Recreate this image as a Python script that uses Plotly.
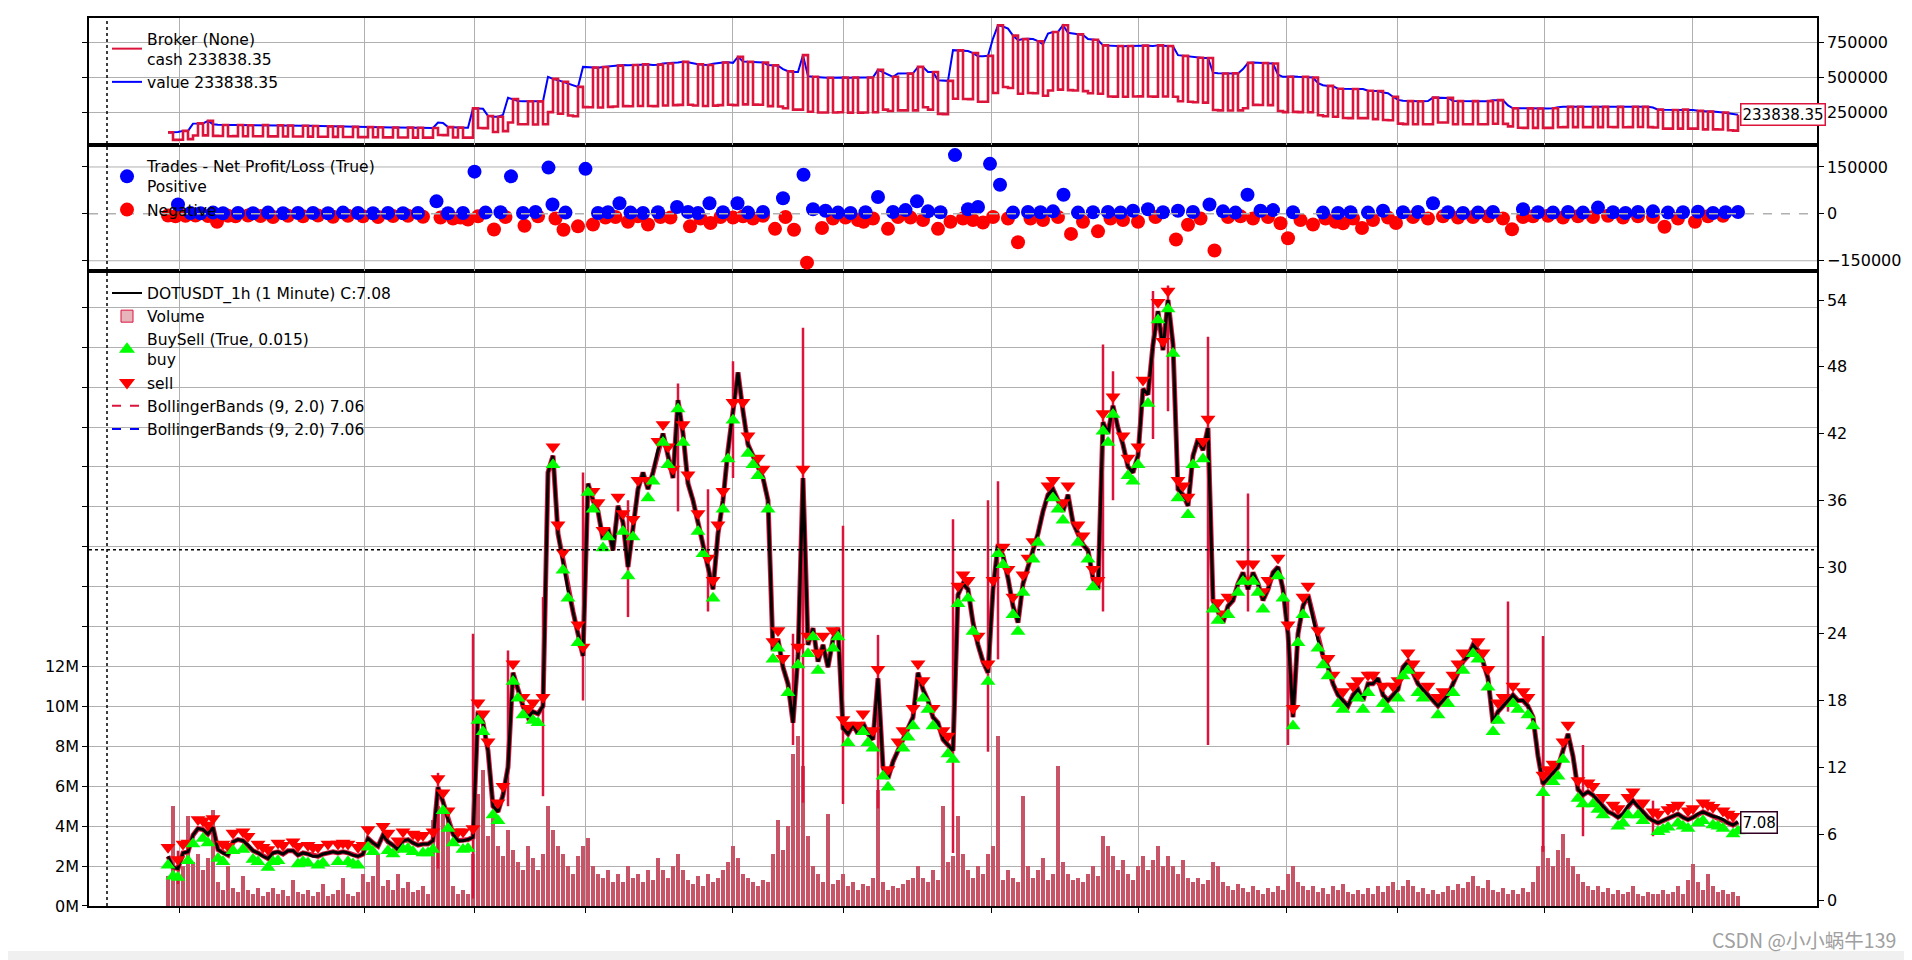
import plotly.graph_objects as go

# ---------------- data ----------------
# closing price, one value per plotted bar
close = [
    4.0, 3.0, 2.9, 4.3, 4.4, 5.9, 6.5, 6.4, 6.0, 6.6,
    4.6, 4.3, 4.1, 5.3, 5.5, 5.4, 5.0, 4.5, 4.3, 4.0,
    3.8, 4.3, 4.4, 4.2, 4.5, 4.5, 4.1, 4.3, 4.2, 4.0,
    4.0, 4.2, 4.3, 4.4, 4.3, 4.4, 4.3, 4.1, 4.0, 4.2,
    5.6, 5.2, 4.9, 5.9, 5.3, 5.0, 4.6, 5.4, 5.5, 5.2,
    5.0, 5.1, 5.1, 5.4, 10.2, 8.9, 7.3, 6.0, 5.4, 5.4,
    5.5, 5.7, 17.0, 16.0, 13.5, 8.5, 8.0, 9.5, 12.0, 20.5,
    19.0, 17.5, 16.5, 17.0, 16.8, 17.5, 38.5, 40.0, 33.0, 30.5,
    28.0, 26.0, 24.0, 22.0, 37.5, 36.0, 35.0, 32.5, 33.5, 31.5,
    35.5, 34.0, 30.0, 33.5, 37.0, 38.5, 37.0, 38.5, 40.5, 42.0,
    40.0, 38.0, 45.0, 42.0, 37.5, 36.0, 34.0, 32.0, 30.0, 28.0,
    33.0, 36.0, 40.5, 44.0, 47.5, 44.0, 41.0, 40.0, 39.0, 38.0,
    36.0, 22.5, 23.5, 21.0, 19.5, 16.0, 22.0, 38.0, 23.0, 24.5,
    21.5, 23.0, 21.0, 23.5, 24.5, 15.5, 15.0, 15.8, 15.0, 16.0,
    15.0, 14.5, 20.0, 12.0, 11.0, 12.5, 13.5, 14.5, 15.5, 16.5,
    20.5, 19.0, 18.0, 16.5, 16.0, 14.5, 14.0, 13.5, 27.5, 28.5,
    28.0, 25.0, 23.0, 21.5, 20.5, 28.0, 32.0, 31.0, 29.0, 26.5,
    25.0, 28.5, 30.0, 31.5, 33.0, 35.0, 36.5, 37.0, 36.0, 35.0,
    36.5, 34.0, 33.0, 32.0, 31.5, 29.0, 28.0, 43.0, 42.0, 44.5,
    42.5, 41.0, 39.0, 38.5, 40.0, 46.0, 45.5, 50.0, 53.0, 49.5,
    54.0, 50.0, 37.0, 36.5, 35.5, 40.0, 41.5, 40.5, 42.5, 27.0,
    26.0, 25.0, 26.5, 27.0, 28.5, 29.5, 28.0, 29.5, 28.5, 27.0,
    28.0, 29.5, 30.0, 28.0, 24.0, 16.5, 24.0, 26.5, 27.5, 25.5,
    23.5, 22.0, 21.0, 19.5, 18.5, 18.0, 17.5, 18.5, 19.0, 18.0,
    19.5, 19.5, 20.0, 18.5, 18.0, 18.5, 19.0, 21.0, 21.5, 20.5,
    19.5, 19.0, 18.5, 18.0, 17.5, 18.0, 18.5, 19.5, 20.5, 21.5,
    22.0, 23.0, 22.5, 21.5, 20.0, 16.0, 17.0, 17.5, 18.0, 18.5,
    18.0, 18.0, 17.5, 16.5, 13.0, 10.5, 11.0, 11.5, 12.0, 13.5,
    15.0, 13.0, 10.0, 9.5, 9.8, 9.5, 9.0, 8.5, 8.0, 7.8,
    7.5, 7.8, 8.5, 9.0, 8.5, 8.0, 7.5, 7.2, 7.0, 7.2,
    7.4, 7.6, 7.8, 7.5, 7.3, 7.5, 7.8, 8.0, 7.8, 7.6,
    7.5, 7.3, 7.0, 6.8, 7.08,
]

# volume in millions, one value per bar
volume_m = [
    1.5, 5.0, 1.3, 2.0, 4.5, 2.2, 2.6, 1.8, 2.4, 4.8,
    1.2, 0.8, 2.0, 0.9, 0.7, 1.5, 0.8, 0.6, 0.9, 0.5,
    0.7, 0.9, 0.6, 0.8, 0.5, 1.3, 0.7, 0.6, 0.8, 0.5,
    0.7, 1.1, 0.5, 0.6, 0.8, 1.4, 0.6, 0.5, 0.7, 1.6,
    1.2, 1.5, 2.6, 1.0, 1.3, 0.8, 1.6, 0.9, 1.2, 0.7,
    0.8, 1.0, 0.6, 4.3, 5.0, 4.6, 4.8, 1.0, 0.6, 0.8,
    0.6, 2.6, 5.6, 6.8, 3.5, 4.5, 3.0, 2.5, 3.8, 2.8,
    2.2, 1.8, 3.0, 2.4, 1.8, 2.6, 5.0, 3.8, 3.0, 2.6,
    2.0, 1.6, 2.5, 3.0, 3.4, 2.0, 1.6, 1.4, 1.8, 1.2,
    1.6, 1.2, 2.0, 1.4, 1.6, 1.2, 1.8, 1.3, 2.4, 1.8,
    1.4, 2.0, 2.6, 1.8, 1.3, 1.1, 1.5, 1.0, 1.6, 1.2,
    1.4, 1.8, 2.2, 3.0, 2.4, 1.6, 1.4, 1.2, 1.0, 1.3,
    1.2, 2.6, 4.3, 2.8, 4.0, 7.6, 8.5, 7.0, 3.5, 2.0,
    1.6, 1.2, 4.6, 1.1, 1.3, 1.6, 1.0, 1.2, 0.8, 1.1,
    1.0, 1.4, 5.8, 1.2, 0.8, 1.0, 0.9, 1.1, 1.3, 1.4,
    2.0, 1.4, 1.2, 1.8, 1.3, 5.0, 2.2, 2.5, 4.5, 2.6,
    1.8, 1.4, 2.0, 1.6, 2.6, 3.0, 8.5, 1.3, 1.8, 1.4,
    1.2, 5.5, 2.0, 1.4, 1.8, 2.4, 1.3, 1.6, 7.0, 2.2,
    1.6, 1.3, 1.4, 1.2, 1.6, 2.0, 1.5, 3.5, 3.0, 2.5,
    1.8, 2.3, 1.6, 1.3, 2.0, 2.5, 1.8, 2.3, 3.0, 2.0,
    2.5, 2.0, 1.6, 2.3, 1.4, 1.2, 1.4, 1.1, 1.3, 2.2,
    2.0, 1.2, 1.0, 0.8, 1.1, 0.9, 0.7, 1.0, 0.8, 0.6,
    0.9, 0.7, 1.0, 0.8, 1.6, 2.0, 1.2, 1.0, 0.8, 1.0,
    0.7, 0.9, 0.6, 1.0, 0.8, 1.1, 0.7, 0.6, 0.8, 0.6,
    0.9, 0.6, 1.0, 0.7, 1.0, 1.2, 0.8, 1.0, 1.3, 1.0,
    0.7, 0.9, 0.6, 0.8, 0.6, 0.7, 1.0, 0.8, 1.1, 0.9,
    1.2, 1.5, 1.0, 0.9, 1.3, 0.8, 0.7, 0.9, 0.6, 0.8,
    0.6, 0.9, 0.7, 1.2, 2.0, 3.0, 2.4, 2.0, 2.8, 3.6,
    2.4, 2.0, 1.6, 1.2, 1.0, 0.8, 1.0, 0.7, 0.9, 0.6,
    0.8, 0.6, 0.7, 1.0, 0.6, 0.5, 0.7, 0.6, 0.6, 0.8,
    0.6, 0.7, 1.0, 0.6, 1.3, 2.1, 1.2, 0.8, 1.6, 1.0,
    0.7, 0.8, 0.6, 0.7, 0.5,
]

# Bollinger band excursions (bar, upper, lower) where the bands flare out
spike_bar = [2, 54, 61, 68, 75, 83, 92, 102, 108, 113, 125, 127, 135, 142, 157,
             164, 166, 187, 189, 197, 200, 208, 216, 224, 268, 275, 283, 297]
spike_high = [4.5, 11.5, 24.0, 22.5, 27.3, 38.5, 36.0, 46.5, 37.0, 48.5, 24.0, 51.5, 33.7, 23.9, 34.3,
              36.0, 37.7, 50.0, 47.6, 54.8, 55.3, 50.7, 36.6, 27.0, 26.9, 23.8, 14.0, 9.0]
spike_low = [1.5, 2.9, 0.2, 8.5, 9.4, 18.0, 25.5, 35.0, 26.0, 38.0, 14.0, 8.8, 8.7, 8.3, 4.3,
             13.4, 21.7, 26.0, 36.0, 41.5, 44.0, 14.0, 26.0, 14.0, 17.0, 4.4, 5.8, 5.8]

# broker value in thousands, one value per bar
value_k = (
    [107, 107, 110] + [118, 118] + [170, 172, 171, 190]
    + [165, 162, 160, 160, 161, 160, 160, 158, 160, 159, 160, 158, 157, 158, 156, 157, 155, 156, 155, 154, 153]
    + [152, 151, 150, 150, 149, 148, 148, 147, 146, 146, 145, 145, 144, 143, 143, 142, 142, 141, 141, 140, 140, 140, 139, 139]
    + [178, 175] + [145, 142, 141, 140, 140] + [279, 278, 276] + [225, 219, 219, 233]
    + [355, 345] + [332, 330, 330, 328, 329, 330] + [505] + [490, 481, 470, 457, 445, 433]
    + [576, 575, 572] + [570, 575, 580, 585, 585, 590, 588, 590, 592, 595, 593, 590, 592]
    + [600, 600, 605, 608] + [612, 610, 600, 595, 592, 590, 598, 605, 608, 610, 605] + [648]
    + [615, 612, 612, 610, 608] + [590, 588, 585, 560, 545, 540, 540] + [660]
    + [510, 505, 500, 500, 498, 500, 502, 500, 498, 500, 497, 500, 500, 502]
    + [555, 540, 520, 505] + [529, 529, 528, 530] + [576, 575] + [540, 540] + [480, 476, 476]
    + [696, 694, 692, 690, 675] + [652, 652, 655] + [779] + [874, 865, 850, 800]
    + [767, 775, 778, 775, 760] + [738] + [814, 826, 826, 874] + [820, 815, 810, 805]
    + [775, 770, 767] + [730, 728, 726, 726, 724, 726, 728] + [730, 728, 728, 726, 730, 728, 726, 724]
    + [660, 655, 652, 645, 642, 640, 640] + [535, 530, 529, 528, 530, 529, 560]
    + [605, 608, 606, 604, 605, 600] + [520, 505, 505, 508, 505, 505, 503, 500]
    + [460, 445, 440, 438] + [420, 420, 419, 418, 419, 418] + [405, 405, 404, 392] + [388, 362]
    + [340, 333, 331, 331, 330, 331, 332] + [356, 355, 355, 354] + [332, 331, 331, 330, 331, 331, 330, 331]
    + [338, 338, 337, 300] + [280, 280, 279, 279, 279, 278, 279, 279, 280]
    + [288, 290, 290, 290, 291, 290, 290, 289, 290, 290, 291, 290, 290, 289, 290, 291, 292, 290, 290, 285]
    + [270, 269, 269, 268, 269, 270, 269, 268, 262] + [257, 256, 257, 255, 250, 245, 240, 233.83835]
)
cash_in_position_share = 0.5
# 1 = a position is open on that bar (cash drops), 0 = flat
in_position = (
    "0110110101101101011011010110101101011011010110110101"
    "1011010110110101101101011010110110101101101011010110"
    "1101011011010110101101101011011010110101101101011011"
    "0101101101011010110110101101101011010110110101101101"
    "0110101101101011011010110101101101011011010110110101"
    "1011010110110101101101011010110110101101101011010110"
    "1101011011010110"
)
# b = buy, s = sell, x = both, . = none
signals = (
    "xbxsxbsxxsbxsx.xsbxsxbxs.sxbxsxbs.xsxbxsxb.sxbsxbx"
    "sxbxsxxbsxbsxxsbxs.xbxsxbs.xsxb.xsbxsxb.sxbxs.xbsx"
    "xsbxs.xbsxsxbx.sxbxsbxxsb.xsxbxs.xbsx.sxbxsbx.sxbx"
    "sxbx.sxbxsxbs.xsbxsxbxsxb.sxbxs.xsbxsxbx.sxbxsb.xs"
    "xbxsxb.xsbxsx.bxsxbxs.xbsxbxs.xbxsbx.sxbxs.xbsxbxs"
    "xbs.xsbxsx.bxsxbxs.xbsxb.xsxbxs.xbsxbx.sxbxsbx.sxb"
    "xsxbxsbxsxbxsxb"
)
bardist = 0.8

# closed trades (bar, net pnl in thousands)
win_bar = [2.0, 4.5, 6.5, 9, 11, 14, 17, 20, 23, 26, 29, 32, 35, 38, 41, 44, 47, 50, 53.7, 56,
           59, 61.3, 63.5, 66.5, 68.6, 71, 73.5, 76.1, 76.9, 79.5, 83.5, 86, 88, 90.3, 92.5, 95, 98, 101.8, 104, 106,
           108.3, 111, 113.9, 116, 119, 123, 127.1, 129, 131.5, 134, 136.5, 139.5, 142, 145, 147.5, 149.8, 152, 154.5, 157.4, 160,
           162, 164.4, 166.4, 169, 172, 174.5, 177, 179.1, 182, 185, 188, 190.5, 193, 196, 199, 202, 205, 208.3, 211, 213.5,
           215.9, 218.5, 221, 225, 231, 234, 236.5, 240, 243, 247, 250, 253, 256, 259, 262, 265, 271, 274, 277, 280,
           283, 286, 289, 291.5, 294, 297, 300, 303, 306, 309, 311.5, 314]
win_pnl_k = [30, 3, 2, 4, 2, 3, 2, 4, 2, 3, 3, 2, 4, 3, 2, 3, 2, 3, 40, 2,
             3, 135, 4, 5, 120, 3, 6, 148, 30, 4, 144, 3, 5, 34, 4, 3, 5, 22, 6, 3,
             34, 5, 34, 4, 6, 50, 125, 15, 10, 4, 3, 5, 54, 6, 12, 40, 8, 5, 188, 15,
             22, 160, 93, 4, 6, 5, 8, 61, 4, 5, 6, 4, 10, 15, 5, 10, 6, 30, 8, 4,
             61, 10, 12, 5, 4, 3, 5, 4, 10, 5, 6, 34, 5, 3, 4, 6, 15, 5, 4, 6,
             4, 20, 5, 3, 6, 8, 4, 5, 7, 3, 5, 6]
loss_bar = [0, 1.5, 3.5, 5.5, 8, 9.8, 12, 13.5, 16, 18.5, 21, 24, 27, 30, 33, 36, 39, 42, 45, 48,
            51, 54.5, 57, 58.5, 60, 62, 65.2, 67.5, 71.3, 74, 77.5, 79.1, 82, 85, 87.5, 89.5, 92, 94, 96, 98.5,
            100.5, 104.4, 106.5, 108.5, 110.5, 113, 115, 117, 119, 121.4, 123.5, 125.2, 127.8, 130.8, 133, 135.5, 138, 139.1, 141, 144,
            146, 148.5, 151, 154, 156.5, 159, 161, 163, 165, 168, 170, 172.5, 175, 178, 180.6, 183, 186, 188.5, 191, 194,
            197.5, 201.6, 204, 206.5, 209.3, 212, 214.5, 217, 220, 222.5, 224, 226.5, 229, 231.5, 233.5, 235, 237, 238.8, 241, 244,
            245.6, 249, 252, 255, 258, 261, 264, 267, 268.8, 271, 273, 276, 279, 282, 285, 288, 291, 294, 297, 299.3,
            302, 305.4, 308, 311]
loss_pnl_k = [-5, -8, -6, -5, -7, -25, -6, -8, -5, -7, -10, -6, -8, -5, -9, -6, -8, -10, -7, -6,
              -9, -12, -15, -12, -18, -8, -50, -10, -38, -8, -15, -51, -40, -34, -12, -10, -25, -8, -34, -10,
              -12, -40, -15, -29, -10, -12, -8, -15, -6, -48, -10, -51, -156, -45, -15, -12, -20, -25, -15, -48,
              -10, -12, -20, -48, -25, -15, -20, -28, -10, -15, -91, -15, -20, -10, -64, -25, -56, -15, -20, -25,
              -10, -82, -35, -15, -117, -10, -8, -15, -10, -30, -78, -20, -34, -15, -25, -30, -15, -45, -20, -12,
              -29, -10, -15, -8, -12, -10, -8, -15, -49, -10, -8, -6, -12, -8, -10, -6, -12, -8, -10, -41,
              -15, -25, -8, -6]

month_ticks = [2.3, 39.3, 61.2, 83.5, 112.9, 135.1, 164.7, 194.1, 223.7, 245.9, 275.3, 304.9]
last_value = 233838.35
last_close = 7.08
bb_last = 7.06
cursor_bar = -12.2
cursor_price = 31.56

# ---------------- styling ----------------
RED = "#dc143c"
GRID = "#b0b0b0"
FONT = "DejaVu Sans"
X_RANGE = [-15.8, 329.8]

fig = go.Figure()

# ---- broker panel ----
bars_v = list(range(len(value_k)))
value = [v * 1000 for v in value_k]
flags = (in_position + "0" * len(value))[:len(value)]
cash = [v * cash_in_position_share if f == "1" else v for v, f in zip(value, flags)]
cash[-1] = value[-1]
fig.add_trace(go.Scatter(x=bars_v, y=value, mode="lines", line=dict(color="blue", width=2),
                         xaxis="x3", yaxis="y", showlegend=False, hoverinfo="skip"))
fig.add_trace(go.Scatter(x=bars_v, y=cash, mode="lines", line=dict(color=RED, width=2.6, shape="hv"),
                         xaxis="x3", yaxis="y", showlegend=False, hoverinfo="skip"))
fig.add_trace(go.Scatter(x=[None], y=[None], mode="lines", line=dict(color=RED, width=2),
                         name=f"Broker (None)<br>cash {last_value:.2f}", xaxis="x3", yaxis="y", legend="legend"))
fig.add_trace(go.Scatter(x=[None], y=[None], mode="lines", line=dict(color="blue", width=2),
                         name=f"value {last_value:.2f}", xaxis="x3", yaxis="y", legend="legend"))

# ---- trades panel ----
n_l = min(len(loss_bar), len(loss_pnl_k))
n_w = min(len(win_bar), len(win_pnl_k))
fig.add_trace(go.Scatter(x=loss_bar[:n_l], y=[k * 1000 for k in loss_pnl_k[:n_l]], mode="markers",
                         marker=dict(color="red", size=14), xaxis="x2", yaxis="y2", showlegend=False, hoverinfo="skip"))
fig.add_trace(go.Scatter(x=win_bar[:n_w], y=[k * 1000 for k in win_pnl_k[:n_w]], mode="markers",
                         marker=dict(color="blue", size=14), xaxis="x2", yaxis="y2", showlegend=False, hoverinfo="skip"))
fig.add_trace(go.Scatter(x=[None], y=[None], mode="markers", marker=dict(color="blue", size=14),
                         name="Trades - Net Profit/Loss (True)<br>Positive", xaxis="x2", yaxis="y2", legend="legend2"))
fig.add_trace(go.Scatter(x=[None], y=[None], mode="markers", marker=dict(color="red", size=14),
                         name="Negative", xaxis="x2", yaxis="y2", legend="legend2"))

# ---- price / volume panel ----
bars_c = list(range(len(close)))
fig.add_trace(go.Bar(x=list(range(len(volume_m))), y=[v * 1e6 for v in volume_m], width=0.95,
                     marker=dict(color="#c85468", line=dict(width=0)), xaxis="x", yaxis="y3",
                     showlegend=False, hoverinfo="skip"))
fig.add_trace(go.Scatter(x=bars_c, y=close, mode="lines", line=dict(color=RED, width=5),
                         xaxis="x", yaxis="y4", showlegend=False, hoverinfo="skip"))
sx, sy = [], []
for b, hi, lo in zip(spike_bar, spike_high, spike_low):
    sx += [b, b, None]
    sy += [lo, hi, None]
fig.add_trace(go.Scatter(x=sx, y=sy, mode="lines", line=dict(color=RED, width=2.5),
                         xaxis="x", yaxis="y4", showlegend=False, hoverinfo="skip"))
fig.add_trace(go.Scatter(x=bars_c, y=close, mode="lines", line=dict(color="black", width=3),
                         xaxis="x", yaxis="y4", showlegend=False, hoverinfo="skip"))
sig = (signals + "." * len(close))[:len(close)]
buy_x = [i for i, c in enumerate(sig) if c in "bx"]
sell_x = [i for i, c in enumerate(sig) if c in "sx"]
fig.add_trace(go.Scatter(x=sell_x, y=[close[i] + bardist for i in sell_x], mode="markers",
                         marker=dict(symbol="triangle-down", color="red", size=13),
                         xaxis="x", yaxis="y4", showlegend=False, hoverinfo="skip"))
fig.add_trace(go.Scatter(x=buy_x, y=[close[i] - bardist for i in buy_x], mode="markers",
                         marker=dict(symbol="triangle-up", color="#00ff00", size=13),
                         xaxis="x", yaxis="y4", showlegend=False, hoverinfo="skip"))

# legend entries for the main panel
fig.add_trace(go.Scatter(x=[None], y=[None], mode="lines", line=dict(color="black", width=2),
                         name=f"DOTUSDT_1h (1 Minute) C:{last_close:.2f}", xaxis="x", yaxis="y4", legend="legend3"))
fig.add_trace(go.Bar(x=[None], y=[None], marker=dict(color="#e8b4bc", line=dict(color=RED, width=1)),
                     name="Volume", xaxis="x", yaxis="y3", legend="legend3"))
fig.add_trace(go.Scatter(x=[None], y=[None], mode="markers",
                         marker=dict(symbol="triangle-up", color="#00ff00", size=14),
                         name="BuySell (True, 0.015)<br>buy", xaxis="x", yaxis="y4", legend="legend3"))
fig.add_trace(go.Scatter(x=[None], y=[None], mode="markers",
                         marker=dict(symbol="triangle-down", color="red", size=14),
                         name="sell", xaxis="x", yaxis="y4", legend="legend3"))
fig.add_trace(go.Scatter(x=[None], y=[None], mode="lines", line=dict(color=RED, width=2, dash="dash"),
                         name=f"BollingerBands (9, 2.0) {bb_last:.2f}", xaxis="x", yaxis="y4", legend="legend3"))
fig.add_trace(go.Scatter(x=[None], y=[None], mode="lines", line=dict(color="blue", width=2, dash="dash"),
                         name=f"BollingerBands (9, 2.0) {bb_last:.2f}", xaxis="x", yaxis="y4", legend="legend3"))

# ---------------- layout ----------------
# the page body adds an 8px offset; the figure is sized so the plot area lands at 89..1817 x 16..906
PLOT_H = 890.0
D_MAIN = [0.0, 636 / PLOT_H]
D_TRADES = [636 / PLOT_H, 763 / PLOT_H]
D_BROKER = [763 / PLOT_H, 1.0]

line = dict(showline=True, linecolor="black", linewidth=1.5)
tickfont = dict(family=FONT, size=16, color="black")


def xax(anchor, ticks):
    return dict(domain=[0, 1], anchor=anchor, range=X_RANGE, tickvals=month_ticks, showticklabels=False,
                ticks=ticks, ticklen=5, tickcolor="black", showgrid=True, gridcolor=GRID, gridwidth=1,
                zeroline=False, mirror=True, **line)


vol_ticks = [i * 2e6 for i in range(16)]
vol_text = [f"{2 * i}M" if 2 * i <= 12 else "" for i in range(16)]

legend_common = dict(bgcolor="rgba(0,0,0,0)", borderwidth=0, font=dict(family=FONT, size=15.5, color="black"),
                     x=18 / 1728, xanchor="left", yanchor="top", itemclick=False, tracegroupgap=0)

fig.update_layout(
    width=1904, height=952,
    margin=dict(l=81, r=95, t=8, b=54),
    paper_bgcolor="white", plot_bgcolor="white",
    font=dict(family=FONT, size=16, color="black"),
    bargap=0,
    xaxis=xax("y3", "outside"),
    xaxis2=xax("y2", ""),
    xaxis3=xax("y", ""),
    yaxis=dict(domain=D_BROKER, anchor="x3", side="right", range=[19000, 926000],
               tickvals=[250000, 500000, 750000], ticktext=["250000", "500000", "750000"],
               ticks="outside", ticklen=5, tickcolor="black", tickfont=tickfont,
               showgrid=True, gridcolor=GRID, zeroline=False, mirror="ticks", **line),
    yaxis2=dict(domain=D_TRADES, anchor="x2", side="right", range=[-184100, 221200],
                tickvals=[-150000, 0, 150000], ticktext=["\u2212150000", "0", "150000"],
                ticks="outside", ticklen=5, tickcolor="black", tickfont=tickfont,
                showgrid=False, zeroline=False, mirror="ticks", **line),
    yaxis3=dict(domain=D_MAIN, anchor="x", side="left", range=[0, 31.8e6],
                tickvals=vol_ticks, ticktext=vol_text, ticks="outside", ticklen=5, tickcolor="black",
                tickfont=tickfont, showgrid=True, gridcolor=GRID, zeroline=False, mirror=True, **line),
    yaxis4=dict(overlaying="y3", anchor="x", side="right", range=[-0.47, 56.57],
                tickvals=list(range(0, 55, 6)), ticks="outside", ticklen=5, tickcolor="black",
                tickfont=tickfont, showgrid=False, zeroline=False, **line),
    legend=dict(y=1.0 - 4 / PLOT_H, **legend_common),
    legend2=dict(y=D_TRADES[1] - 5 / PLOT_H, **legend_common),
    legend3=dict(y=D_MAIN[1] - 5 / PLOT_H, **legend_common),
    showlegend=True,
)

shapes = [
    # trades panel gridlines and zero reference
    dict(type="line", xref="x2 domain", x0=0, x1=1, yref="y2", y0=150000, y1=150000,
         line=dict(color=GRID, width=1), layer="below"),
    dict(type="line", xref="x2 domain", x0=0, x1=1, yref="y2", y0=-150000, y1=-150000,
         line=dict(color=GRID, width=1), layer="below"),
    dict(type="line", xref="x2 domain", x0=0, x1=1, yref="y2", y0=0, y1=0,
         line=dict(color="#b0b0b0", width=1.5, dash="dash"), layer="above"),
    # crosshair cursor
    dict(type="line", xref="x", x0=cursor_bar, x1=cursor_bar, yref="paper", y0=0, y1=1,
         line=dict(color="black", width=1.5, dash="dot"), layer="above"),
    dict(type="line", xref="paper", x0=0, x1=1, yref="y4", y0=cursor_price, y1=cursor_price,
         line=dict(color="black", width=1.5, dash="dot"), layer="above"),
    # window toolbar strip at the bottom
    dict(type="rect", xref="paper", x0=-0.06, x1=1.06, yref="paper", y0=-0.0607, y1=-0.0506,
         fillcolor="#f0f0f0", line=dict(width=0), layer="below"),
]
fig.update_layout(shapes=shapes)

fig.add_annotation(x=len(value) - 1, xref="x3", y=value[-1], yref="y", text=f"{last_value:.2f}",
                   showarrow=False, xanchor="left", xshift=2, bgcolor="white", bordercolor=RED, borderwidth=1.5,
                   borderpad=1, font=dict(family=FONT, size=15, color="black"))
fig.add_annotation(x=len(close) - 1, xref="x", y=close[-1], yref="y4", text=f"{last_close:.2f}",
                   showarrow=False, xanchor="left", xshift=2, bgcolor="white", bordercolor="#300020", borderwidth=1.5,
                   borderpad=1, font=dict(family=FONT, size=15, color="black"))
fig.add_annotation(x=(1898 - 89) / 1728, xref="paper", y=(906 - 940) / PLOT_H, yref="paper",
                   text="CSDN @小小蜗牛139", showarrow=False, xanchor="right", yanchor="middle",
                   font=dict(family="Noto Sans CJK SC", size=19.5, color="#a0a0a0"))

fig.write_html("out.html")
